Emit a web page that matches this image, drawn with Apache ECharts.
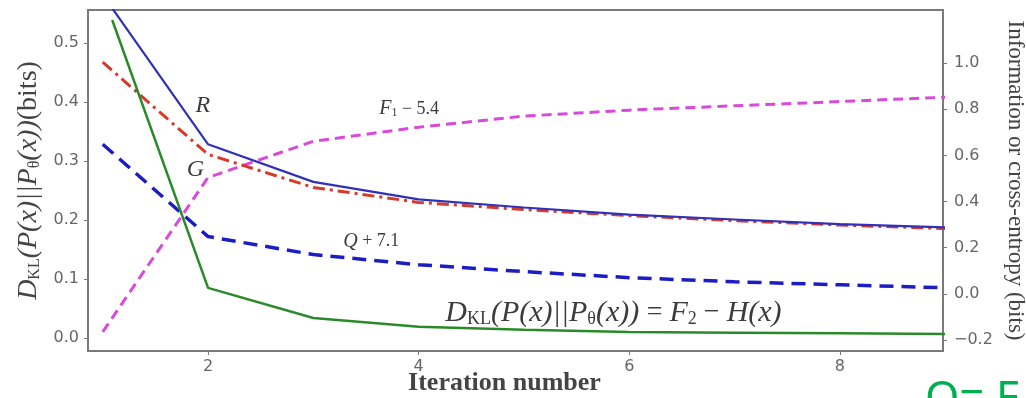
<!DOCTYPE html>
<html>
<head>
<meta charset="utf-8">
<script src="https://cdn.jsdelivr.net/npm/echarts@6/dist/echarts.min.js"></script>
<style>
  html, body { margin: 0; padding: 0; background: #fff; }
  #chart { width: 1026px; height: 398px; }
</style>
</head>
<body>
<div id="chart"></div>
<script>
// iteration numbers (x)
const iterations = [1, 2, 3, 4, 5, 6, 7, 8, 9];
const dklIter = [1.09, 2, 3, 4, 5, 6, 7, 8, 9];
const xTicks = [2, 4, 6, 8];

// left axis: D_KL (bits)
const dklValues = [0.539, 0.085, 0.034, 0.019, 0.014, 0.010, 0.009, 0.008, 0.007];
const leftTicks = [0, 0.1, 0.2, 0.3, 0.4, 0.5];

// right axis: information / cross-entropy (bits)
const rValues = [1.296, 0.648, 0.485, 0.409, 0.374, 0.343, 0.322, 0.302, 0.288];
const gValues = [1.004, 0.604, 0.461, 0.396, 0.365, 0.339, 0.317, 0.298, 0.283];
const qValues = [0.648, 0.248, 0.170, 0.126, 0.096, 0.070, 0.052, 0.039, 0.026];
const fValues = [-0.165, 0.504, 0.661, 0.722, 0.770, 0.796, 0.815, 0.833, 0.852];
const rightTicks = [-0.2, 0, 0.2, 0.4, 0.6, 0.8, 1.0];

const pairs = (xs, ys) => xs.map((x, i) => [x, ys[i]]);
const fmt = v => (v < 0 ? '\u2212' : '') + Math.abs(v).toFixed(1);

const chart = echarts.init(document.getElementById('chart'));
const serif = 'Liberation Serif';
const tickColor = '#666';
const frame = '#7a7a7a';

const options = {
  animation: false,
  grid: {
    left: 88, right: 83, top: 10, bottom: 47, outerBoundsMode: 'none',
    show: true, borderColor: frame, borderWidth: 2
  },
  xAxis: {
    type: 'value', min: 0.86, max: 8.98,
    name: 'Iteration number', nameLocation: 'middle', nameGap: 19, nameMoveOverlap: false,
    nameTextStyle: { fontFamily: serif, fontSize: 26, fontWeight: 'bold', color: '#444', padding: [0, 22, 0, 0] },
    axisLine: { onZero: false, lineStyle: { color: frame, width: 2 } },
    axisTick: { customValues: xTicks, length: 4, lineStyle: { color: frame } },
    axisLabel: { customValues: xTicks, margin: 8, fontFamily: 'DejaVu Sans', fontSize: 16, color: tickColor },
    splitLine: { show: false }
  },
  yAxis: [{
    type: 'value', min: -0.022, max: 0.556, position: 'left',
    name: '{i|D}{s|KL}{i|(P(x)||P}{s|\u03b8}{i|(x))}{n|(bits)}',
    nameLocation: 'middle', nameRotate: 90, nameGap: 43,
    nameTextStyle: {
      color: '#444',
      rich: {
        i: { fontFamily: serif, fontStyle: 'italic', fontSize: 28, color: '#444' },
        s: { fontFamily: serif, fontSize: 16, color: '#444', padding: [12, 0, 0, 0] },
        n: { fontFamily: serif, fontSize: 28, color: '#444' }
      }
    },
    axisLine: { show: true, onZero: false, lineStyle: { color: frame, width: 2 } },
    axisTick: { show: true, customValues: leftTicks, length: 4, lineStyle: { color: frame } },
    axisLabel: { customValues: leftTicks, formatter: fmt, margin: 9, fontFamily: 'DejaVu Sans', fontSize: 16, color: tickColor },
    splitLine: { show: false }
  }, {
    type: 'value', min: -0.248, max: 1.23, position: 'right',
    name: 'Information or cross-entropy (bits)',
    nameLocation: 'middle', nameRotate: -90, nameGap: 60,
    nameTextStyle: { fontFamily: serif, fontSize: 23, color: '#444' },
    axisLine: { show: true, onZero: false, lineStyle: { color: frame, width: 2 } },
    axisTick: { show: true, customValues: rightTicks, length: 4, lineStyle: { color: frame } },
    axisLabel: { customValues: rightTicks, formatter: fmt, margin: 11, fontFamily: 'DejaVu Sans', fontSize: 16, color: tickColor },
    splitLine: { show: false }
  }],
  series: [
    { name: 'F1', type: 'line', yAxisIndex: 1, data: pairs(iterations, fValues), symbol: 'none',
      lineStyle: { color: '#d84ad8', width: 3, type: [10, 6] } },
    { name: 'Q', type: 'line', yAxisIndex: 1, data: pairs(iterations, qValues), symbol: 'none',
      lineStyle: { color: '#1c1cc4', width: 3.5, type: [14, 8] } },
    { name: 'G', type: 'line', yAxisIndex: 1, data: pairs(iterations, gValues), symbol: 'none',
      lineStyle: { color: '#d63a2a', width: 3, type: [12, 5, 3, 5] } },
    { name: 'R', type: 'line', yAxisIndex: 1, data: pairs(iterations, rValues), symbol: 'none',
      lineStyle: { color: '#3030b8', width: 2.2 } },
    { name: 'DKL', type: 'line', yAxisIndex: 0, data: pairs(dklIter, dklValues), symbol: 'none',
      lineStyle: { color: '#2a8a2a', width: 2.5 } }
  ]
};

chart.setOption(options);

// annotations, placed in data coordinates of the right axis
const textColor = '#3c3c3c';
const rich = size => ({
  i: { fontFamily: serif, fontStyle: 'italic', fontSize: size, fill: textColor },
  n: { fontFamily: serif, fontSize: size - 2, fill: textColor },
  s: { fontFamily: serif, fontSize: Math.round(size * 0.6), fill: textColor, padding: [Math.round(size * 0.4), 0, 0, 0] }
});
const at = (x, y) => chart.convertToPixel({ xAxisIndex: 0, yAxisIndex: 1 }, [x, y]);

const notes = [
  { pos: at(1.95, 0.817), size: 24, text: '{i|R}' },
  { pos: at(1.88, 0.539), size: 24, text: '{i|G}' },
  { pos: at(3.91, 0.80), size: 20, text: '{i|F}{s|1}{n| \u2212 5.4}' },
  { pos: at(3.55, 0.226), size: 20, text: '{i|Q}{n| + 7.1}' },
  { pos: at(5.85, -0.083), size: 30, text: '{i|D}{s|KL}{i|(P(x)||P}{s|\u03b8}{i|(x)) }{n|= }{i|F}{s|2}{n| \u2212 }{i|H(x)}' }
];

chart.setOption({
  graphic: notes.map(n => ({
    type: 'text', x: n.pos[0], y: n.pos[1],
    style: { text: n.text, align: 'center', verticalAlign: 'middle', rich: rich(n.size) }
  })).concat([{
    type: 'text', left: 925, top: 377,
    style: { text: 'Q= F', fontFamily: 'Noto Sans', fontSize: 44, fill: '#00b050' }
  }])
});
</script>
</body>
</html>
